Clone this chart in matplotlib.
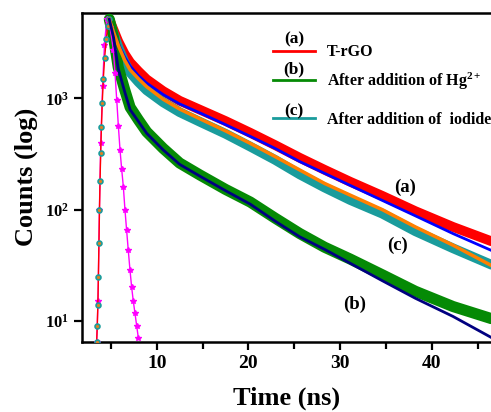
import matplotlib
matplotlib.use("Agg")
import matplotlib.pyplot as plt
from matplotlib.ticker import NullLocator, MultipleLocator

plt.rcParams['font.family'] = 'Liberation Serif'
plt.rcParams['font.weight'] = 'bold'
plt.rcParams['mathtext.fontset'] = 'custom'
plt.rcParams['mathtext.rm'] = 'Liberation Serif:bold'
plt.rcParams['mathtext.it'] = 'Liberation Serif:bold'
plt.rcParams['mathtext.bf'] = 'Liberation Serif:bold'

# ---- data (time in ns, counts) ----
# rising edge, same for all samples
rise_t = [3.45, 3.52, 3.58, 3.64, 3.70, 3.76, 3.82, 3.89, 3.97, 4.06, 4.18, 4.32, 4.50, 4.66, 4.83]
rise_counts = [6.5, 9, 14, 25, 50, 100, 180, 320, 550, 900, 1500, 2300, 3400, 4500, 5120]

# decay part
decay_t = [4.83, 5.3, 5.8, 6.5, 7.1, 8.0, 8.9, 10.7, 12.5, 14.7, 17.5, 20.2,
           22.9, 25.6, 28.3, 31.1, 34.6, 38.2, 42.3, 46.5]
a_counts = [5120, 4100, 3250, 2500, 2100, 1750, 1480, 1160, 950, 790, 625, 490,
            380, 292, 228, 178, 133, 97, 70, 52]
b_counts = [5120, 3500, 1900, 1200, 830, 640, 500, 355, 262, 205, 152, 117,
            84, 61, 46, 36, 26, 18.5, 13.5, 10.5]
c_counts = [5120, 3800, 2900, 2100, 1700, 1400, 1180, 920, 750, 615, 480, 368,
            280, 207, 158, 122, 92, 64, 45, 32]

# fitted curves
fit_a = [5120, 4000, 3100, 2350, 1950, 1600, 1370, 1080, 890, 740, 580, 455,
         355, 270, 212, 165, 121, 88, 61, 43]
fit_b = [5120, 3500, 1850, 1150, 790, 620, 485, 344, 255, 200, 148, 112,
         79, 57, 44, 33, 23, 16, 11, 7.1]
fit_c = [5120, 3900, 3000, 2200, 1800, 1500, 1270, 980, 800, 655, 510, 394,
         300, 227, 172, 135, 100, 70, 48, 31.5]

# instrument response
irf_t = [3.45, 3.6, 3.75, 3.9, 4.1, 4.3, 4.55, 4.9, 5.27, 5.45, 5.64, 5.82, 6.0,
         6.18, 6.36, 6.54, 6.72, 6.9, 7.08, 7.27, 7.45, 7.63, 7.82, 8.0]
irf_counts = [6.5, 15, 100, 400, 1300, 3000, 5100, 4390, 2720, 1700, 965, 560, 343,
              230, 161, 99, 65, 43, 29, 20, 15, 11.7, 9, 7]

legend_tags = ['(a)', '(b)', '(c)']
legend_names = ['T-rGO', 'After addition of Hg$^{2+}$', 'After addition of  iodide']

fig = plt.figure(figsize=(4.91, 4.12), dpi=100)
ax = fig.add_axes([81.7 / 491, 70 / 412, 409.3 / 491, 329.3 / 412])

red = '#ff0000'
green = '#058a05'
teal = '#1a9c9c'

# data bands
ax.plot(decay_t, a_counts, color=red, lw=7, solid_capstyle='round', zorder=2)
ax.plot(decay_t, c_counts, color=teal, lw=7, solid_capstyle='round', zorder=3)
ax.plot(decay_t, b_counts, color=green, lw=8, solid_capstyle='round', zorder=3)

# IRF
ax.plot(irf_t, irf_counts, color='#ff00ff', lw=1, marker='*', ms=4, zorder=4)

# rising edge shown as dots
ax.plot(rise_t, rise_counts, color=red, lw=1, zorder=5)
ax.plot(rise_t, rise_counts, 'o', ms=3.5, mfc='#e08020', mec=teal, mew=1.2, zorder=6)

# fits
ax.plot(decay_t, fit_a, color='#0000ff', lw=2, zorder=7)
ax.plot(decay_t, fit_c, color='#ff8000', lw=2.5, zorder=7)
ax.plot(decay_t, fit_b, color='#000080', lw=2, zorder=7)

ax.set_yscale('log')
ax.set_xlim(1.82, 46.45)
ax.set_ylim(6.48, 5866)

ax.set_yticks([10, 100, 1000])
ax.set_yticklabels(['$10^{1}$', '$10^{2}$', '$10^{3}$'], fontsize=12)
ax.yaxis.set_minor_locator(NullLocator())
ax.set_xticks([10, 20, 30, 40])
ax.set_xticklabels(['10', '20', '30', '40'], fontsize=14)
ax.xaxis.set_minor_locator(MultipleLocator(5))

ax.tick_params(axis='both', which='major', direction='out', length=6, width=1.6, pad=3)
ax.tick_params(axis='x', which='minor', direction='out', length=5, width=1.6)

for side in ['left', 'bottom', 'top']:
    ax.spines[side].set_linewidth(1.8)
ax.spines['right'].set_visible(False)

ax.set_xlabel('Time (ns)', fontsize=19, fontweight='bold', labelpad=11)
ax.set_ylabel('Counts (log)', fontsize=19, fontweight='bold', labelpad=5)

# legend drawn by hand
leg_colors = [red, green, teal]
leg_y = [0.885, 0.796, 0.680]
tag_y = [0.918, 0.828, 0.700]
for tag, name, col, ly, ty in zip(legend_tags, legend_names, leg_colors, leg_y, tag_y):
    ax.plot([0.467, 0.570], [ly, ly], color=col, lw=2, transform=ax.transAxes, clip_on=False)
    ax.text(0.519, ty, tag, transform=ax.transAxes, ha='center', va='center', fontsize=12.5)
    ax.text(0.600, ly - 0.005, name, transform=ax.transAxes, ha='left', va='center', fontsize=11.5)

# curve tags
ax.text(37.1, 157, '(a)', ha='center', va='center', fontsize=13.5)
ax.text(36.3, 48, '(c)', ha='center', va='center', fontsize=13.5)
ax.text(31.6, 14, '(b)', ha='center', va='center', fontsize=13.5)

fig.savefig('out.png', dpi=100)
